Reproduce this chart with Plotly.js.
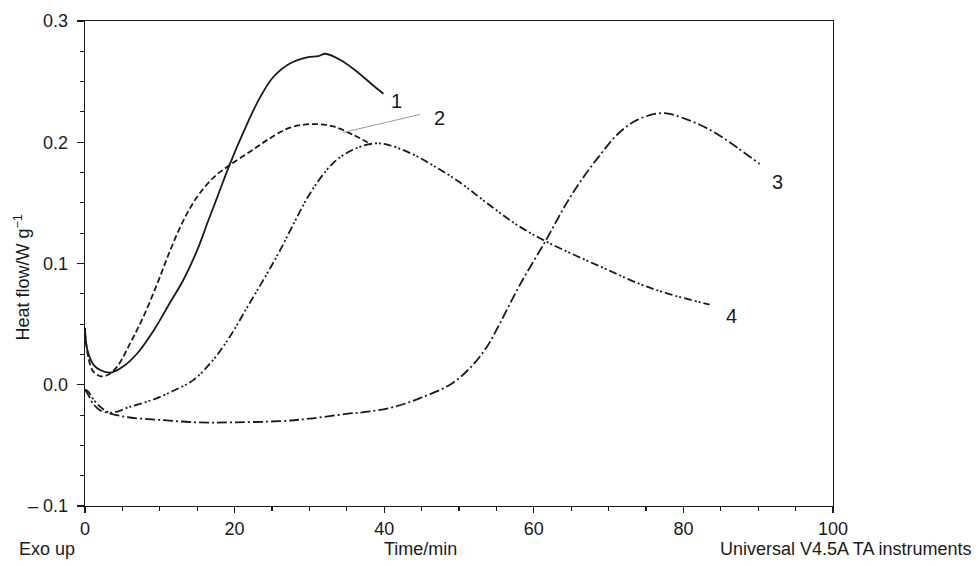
<!DOCTYPE html>
<html>
<head>
<meta charset="utf-8">
<script src="https://cdn.plot.ly/plotly-3.0.1.min.js"></script>
<style>html,body{margin:0;padding:0;background:#fff;}#chart{width:976px;height:566px;}</style>
</head>
<body>
<div id="chart"></div>
<script>
// Curve 1 (solid)
const x1 = [0, 0.3, 1.2, 2.1, 3.4, 5.1, 7.0, 9.2, 11.4, 13.2, 15.0, 16.4, 17.7, 19.3, 21.3, 23.4, 25.2, 27.4, 29.7, 31.2, 32.1, 34.1, 36.4, 38.5, 39.9];
const y1 = [0.047, 0.029, 0.016, 0.012, 0.010, 0.015, 0.026, 0.045, 0.068, 0.087, 0.111, 0.134, 0.155, 0.181, 0.210, 0.237, 0.254, 0.265, 0.270, 0.271, 0.273, 0.268, 0.258, 0.247, 0.240];
// Curve 2 (dashed)
const x2 = [0, 0.5, 1.1, 2.1, 3.0, 4.3, 6.1, 7.8, 9.7, 11.4, 13.2, 15.0, 17.2, 19.3, 22.5, 24.4, 27.4, 30.5, 33.2, 35.9, 38.3];
const y2 = [0.043, 0.021, 0.011, 0.007, 0.008, 0.015, 0.035, 0.056, 0.084, 0.111, 0.136, 0.155, 0.171, 0.181, 0.194, 0.202, 0.212, 0.215, 0.213, 0.206, 0.198];
// Curve 3 (dash-dot)
const x3 = [0, 0.5, 1.0, 2.0, 3.5, 6.0, 10.0, 15.0, 20.0, 26.0, 30.0, 35.0, 38.1, 41.5, 44.8, 48.8, 51.5, 53.7, 55.5, 58.1, 61.7, 64.4, 66.5, 68.8, 71.1, 73.7, 77.2, 80.8, 83.9, 87.1, 90.2];
const y3 = [-0.004, -0.009, -0.015, -0.021, -0.024, -0.027, -0.029, -0.031, -0.031, -0.030, -0.028, -0.024, -0.022, -0.018, -0.011, 0.000, 0.014, 0.031, 0.051, 0.082, 0.120, 0.150, 0.170, 0.189, 0.206, 0.218, 0.224, 0.218, 0.209, 0.196, 0.182];
// Curve 4 (dash-dot-dot)
const x4 = [0, 0.5, 1.0, 2.0, 3.4, 6.1, 9.2, 11.8, 14.5, 17.2, 19.4, 21.7, 23.9, 26.0, 28.0, 30.1, 33.2, 35.9, 38.5, 40.4, 43.5, 46.5, 50.1, 53.7, 57.7, 61.7, 65.8, 69.8, 74.2, 78.0, 83.5];
const y4 = [-0.004, -0.006, -0.011, -0.018, -0.023, -0.018, -0.012, -0.005, 0.004, 0.021, 0.040, 0.064, 0.087, 0.110, 0.134, 0.158, 0.183, 0.194, 0.199, 0.198, 0.191, 0.181, 0.167, 0.150, 0.132, 0.118, 0.106, 0.095, 0.083, 0.075, 0.066];

const yTickVals = [-0.1, 0, 0.1, 0.2, 0.3];
const yTickText = ['\u2013 0.1', '0.0', '0.1', '0.2', '0.3'];
const xTickVals = [0, 20, 40, 60, 80, 100];
const curveLabels = ['1', '2', '3', '4'];
const labelX = [41.6, 47.4, 92.6, 86.4];
const labelY = [0.234, 0.220, 0.167, 0.057];

const lineColor = '#1a1a1a';
const traces = [
  {x: x1, y: y1, mode: 'lines', line: {color: lineColor, width: 1.8, shape: 'spline', dash: 'solid'}},
  {x: x2, y: y2, mode: 'lines', line: {color: lineColor, width: 1.8, shape: 'spline', dash: '6px,3px'}},
  {x: x3, y: y3, mode: 'lines', line: {color: lineColor, width: 1.8, shape: 'spline', dash: '10px,3px,2px,3px'}},
  {x: x4, y: y4, mode: 'lines', line: {color: lineColor, width: 1.8, shape: 'spline', dash: '8px,3px,2px,2px,2px,3px'}}
];

const font = {family: 'Liberation Sans, Arial, sans-serif', size: 18, color: '#1a1a1a'};
const annotations = curveLabels.map((t, i) => ({
  x: labelX[i], y: labelY[i], xref: 'x', yref: 'y', text: t, showarrow: false,
  xanchor: 'center', yanchor: 'middle',
  font: {family: font.family, size: 20, color: '#1a1a1a'}
}));
annotations.push(
  {x: 420, y: 549, xref: 'paper', yref: 'paper', text: 'Time/min', showarrow: false, font: font},
  {x: 46, y: 549, xref: 'paper', yref: 'paper', text: 'Exo up', showarrow: false, font: font},
  {x: 846, y: 549, xref: 'paper', yref: 'paper', text: 'Universal V4.5A TA instruments', showarrow: false, font: font},
  {x: 21, y: 278, xref: 'paper', yref: 'paper', text: 'Heat flow/W g<sup>\u22121</sup>', textangle: -90, showarrow: false, font: font}
);
// convert pixel-placed annotations to paper coords
const L = 84.5, R = 833, T = 21, B = 506, W = 976, H = 566;
annotations.forEach(a => {
  if (a.xref === 'paper') {
    a.x = (a.x - L) / (R - L);
    a.y = (B - a.y) / (B - T);
    a.xanchor = 'center';
    a.yanchor = 'middle';
  }
});

const layout = {
  width: W, height: H,
  margin: {l: L, r: W - R, t: T, b: H - B, pad: 0},
  paper_bgcolor: '#fff', plot_bgcolor: '#fff',
  showlegend: false,
  font: font,
  xaxis: {
    range: [0, 100], tickmode: 'array', tickvals: xTickVals, ticktext: xTickVals.map(String),
    ticks: 'outside', ticklen: 6, tickwidth: 1.2, tickcolor: '#1a1a1a',
    showline: true, linecolor: '#1a1a1a', linewidth: 1.3, mirror: true,
    showgrid: false, zeroline: false, tickfont: font,
    minor: {tickmode: 'linear', tick0: 0, dtick: 5, ticks: 'outside', ticklen: 4, tickwidth: 1.1, tickcolor: '#1a1a1a', showgrid: false}
  },
  yaxis: {
    range: [-0.1, 0.3], tickmode: 'array', tickvals: yTickVals, ticktext: yTickText,
    ticks: 'outside', ticklen: 7, tickwidth: 1.2, tickcolor: '#1a1a1a',
    showline: true, linecolor: '#1a1a1a', linewidth: 1.3, mirror: true,
    showgrid: false, zeroline: false, tickfont: font, ticklabelstandoff: 5,
    minor: {tickmode: 'linear', tick0: 0, dtick: 0.025, ticks: 'outside', ticklen: 4, tickwidth: 1.1, tickcolor: '#1a1a1a', showgrid: false}
  },
  shapes: [
    {type: 'line', xref: 'x', yref: 'y', x0: 34.5, y0: 0.208, x1: 44.8, y1: 0.223, line: {color: '#9a9a9a', width: 1}}
  ],
  annotations: annotations
};

Plotly.newPlot('chart', traces, layout, {displayModeBar: false, staticPlot: true});
</script>
</body>
</html>
